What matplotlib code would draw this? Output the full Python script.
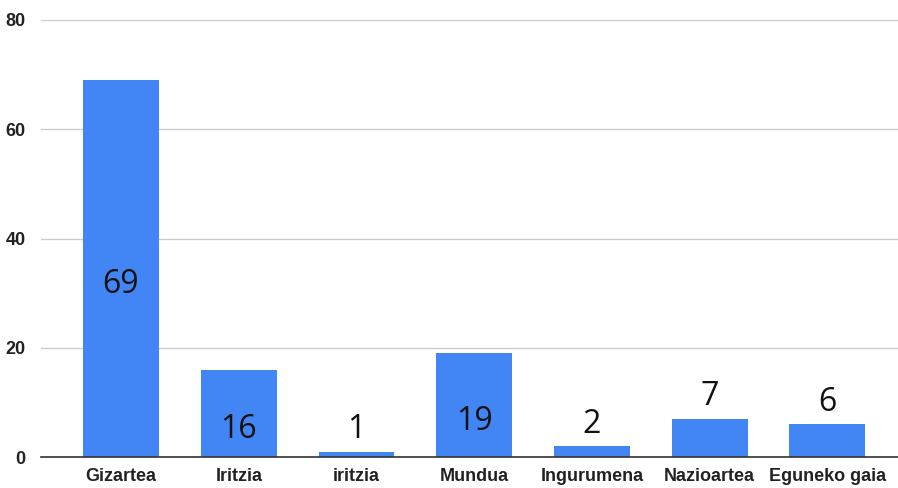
import numpy as np
import matplotlib
matplotlib.use('Agg')
import matplotlib.pyplot as plt

# Datos
categorias = ['Gizartea', 'Iritzia', 'iritzia', 'Mundua', 'Ingurumena', 'Nazioartea', 'Eguneko gaia']
valores = [69, 16, 1, 19, 2, 7, 6]
ticks_y = [0, 20, 40, 60, 80]

azul = '#4285F4'

fig = plt.figure(figsize=(8.98, 4.88), dpi=100)
ax = fig.add_axes([41 / 898, 31 / 488, 857 / 898, 437 / 488])

x = np.arange(len(categorias))
ax.bar(x, valores, width=0.645, color=azul, zorder=3)

ax.set_xlim(-0.68, 6.6)
ax.set_ylim(0, 80)
ax.set_yticks(ticks_y)
ax.set_yticklabels([str(t) for t in ticks_y], fontfamily='Liberation Sans',
                   fontweight='bold', fontsize=13, color='#222222')
ax.set_xticks(x)
ax.set_xticklabels(categorias, fontfamily='Liberation Sans', fontweight='bold',
                   fontsize=13, color='#222222')
ax.tick_params(axis='both', length=0)
ax.tick_params(axis='x', pad=8)
ax.tick_params(axis='y', pad=11)

for s in ['top', 'right', 'left']:
    ax.spines[s].set_visible(False)
ax.spines['bottom'].set_color('#333333')
ax.spines['bottom'].set_linewidth(1.2)
ax.spines['bottom'].set_zorder(4)
ax.yaxis.grid(True, color='#cccccc', linewidth=1, zorder=0)

# Etiquetas de datos
for xi, v in zip(x, valores):
    if v >= 10:
        ax.text(xi, v / 2 - 3, str(v), ha='center', va='center',
                fontsize=23, fontfamily='Open Sans', color='#111111', zorder=5)
    else:
        ax.annotate(str(v), (xi, v), xytext=(0, 4), textcoords='offset points',
                    ha='center', va='bottom', fontsize=23,
                    fontfamily='Open Sans', color='#111111', zorder=5)

fig.savefig('out.png', dpi=100)
